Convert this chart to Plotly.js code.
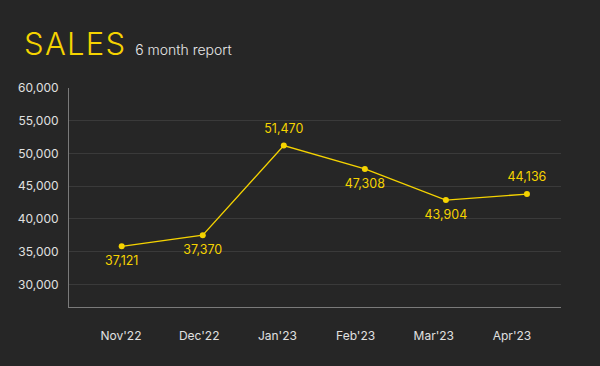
<!DOCTYPE html>
<html>
<head>
<meta charset="utf-8">
<script src="https://cdn.plot.ly/plotly-3.0.1.min.js"></script>
<style>html,body{margin:0;padding:0;background:#262626;}#chart{width:600px;height:366px;}</style>
</head>
<body>
<div id="chart"></div>
<script>
const months = ["Nov'22", "Dec'22", "Jan'23", "Feb'23", "Mar'23", "Apr'23"];
const sales = [35830, 37515, 51212, 47638, 42883, 43804];
const labels = ["37,121", "37,370", "51,470", "47,308", "43,904", "44,136"];
const labelPos = ["bottom center", "bottom center", "top center", "bottom center", "bottom center", "top center"];
const yTicks = [30000, 35000, 40000, 45000, 50000, 55000, 60000];

const yellow = '#f5d300';
const font = 'Inter, "Open Sans", sans-serif';

const traces = [
  {
    x: months, y: sales, type: 'scatter', mode: 'lines+markers',
    line: {color: yellow, width: 1.3},
    marker: {color: yellow, size: 6},
    hoverinfo: 'skip', cliponaxis: false
  },
  {
    x: months, y: sales, type: 'scatter', mode: 'markers+text',
    marker: {color: yellow, size: 14, opacity: 0},
    text: labels, textposition: labelPos,
    textfont: {color: yellow, size: 12.5, family: font},
    hoverinfo: 'skip', cliponaxis: false
  },
  {
    x: months.map((m, i) => i), y: sales, xaxis: 'x2', type: 'scatter', mode: 'markers',
    marker: {opacity: 0}, hoverinfo: 'skip', showlegend: false
  }
];

const layout = {
  width: 600, height: 366,
  paper_bgcolor: '#262626', plot_bgcolor: '#262626',
  margin: {l: 69, r: 39, t: 88, b: 59},
  showlegend: false,
  font: {family: font, color: '#e0e0e0', size: 12},
  title: {
    text: "<span style='letter-spacing:1.3px'>SALES</span> <span style='font-size:14px;color:#e8e8e8'>6 month report</span>",
    font: {family: font, size: 31, color: yellow, weight: 300},
    xref: 'container', yref: 'container', x: 24/600, xanchor: 'left', y: 1 - 55/366, yanchor: 'bottom'
  },
  xaxis: {
    type: 'category', range: [-0.65, 5.42], showgrid: false, zeroline: false,
    showline: true, linecolor: '#7a7a7a', linewidth: 1, showticklabels: false, ticks: ''
  },
  xaxis2: {
    overlaying: 'x', side: 'bottom', range: [-0.665, 5.627], showgrid: false, zeroline: false,
    showline: false, tickmode: 'array', tickvals: months.map((m, i) => i), ticktext: months,
    ticks: '', ticklabelstandoff: 20, tickfont: {size: 12, color: '#e0e0e0', family: font}
  },
  yaxis: {
    range: [26560, 60000], tickmode: 'array', tickvals: yTicks, tickformat: ',d',
    showgrid: true, gridcolor: '#3a3a3a', gridwidth: 1, zeroline: false,
    showline: true, linecolor: '#7a7a7a', linewidth: 1, ticks: '', ticklabelstandoff: 7,
    tickfont: {size: 12, color: '#e0e0e0', family: font}
  }
};

Plotly.newPlot('chart', traces, layout, {displayModeBar: false, staticPlot: true});
</script>
</body>
</html>
